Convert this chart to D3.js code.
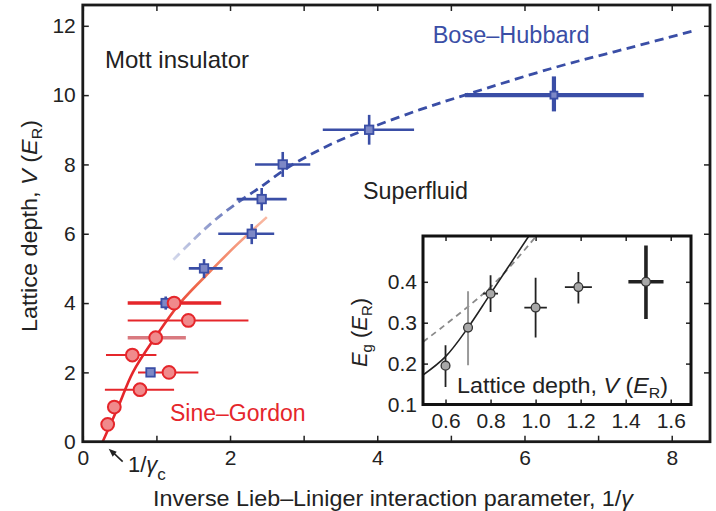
<!DOCTYPE html>
<html><head><meta charset="utf-8">
<script src="https://cdn.jsdelivr.net/npm/d3@7"></script>
<style>body{margin:0;background:#fff} text{font-family:"Liberation Sans",Arial,Helvetica,sans-serif;fill:#222}</style>
</head><body><svg id="c" width="716" height="511"></svg>
<script>
// ---- main panel data ----
const bhX=[0.92,1.126,1.647,2.295,2.43,2.716,3.89,6.40];
const bhY=[2,4,5,6,7,8,9,10];
const bhXlo=[null,1.05,1.44,1.84,2.09,2.34,3.26,5.19];
const bhXhi=[null,1.20,1.90,2.60,2.77,3.09,4.50,7.62];
const bhYlo=[null,3.81,4.72,5.70,6.67,7.64,8.57,9.53];
const bhYhi=[null,4.19,5.27,6.28,7.32,8.36,9.43,10.54];
const sgX=[0.338,0.428,0.777,1.171,0.673,0.99,1.434,1.24];
const sgY=[0.5,1,1.5,2,2.5,3,3.5,4];
const sgXlo=[null,0.38,0.30,0.75,0.315,0.61,0.61,0.61];
const sgXhi=[null,0.50,1.24,1.57,1.00,1.40,2.25,1.88];
const bhCurveX=[1.23,1.50,1.77,2.09,2.41,2.77,3.09,3.45,3.90,4.58,5.19,6.4,7.4,8.34];
const bhCurveY=[5.25,5.82,6.35,6.88,7.34,7.89,8.28,8.66,9.05,9.58,10.0,10.79,11.35,11.88];
const sgCurveX=[0.27,0.48,0.68,0.98,1.32,1.77,2.1,2.50];
const sgCurveY=[0,1,2,3,4,5,5.7,6.48];
const xTicks=[0,1,2,3,4,5,6,7,8];
const xTickLabels=["0","","2","","4","","6","","8"];
const yTicks=[0,2,4,6,8,10,12];
const gammaC=0.27;
// ---- inset data ----
const inX=[0.6,0.7,0.8,1.0,1.19,1.49];
const inY=[0.195,0.288,0.371,0.337,0.387,0.40];
const inXerr=[0.02,0.022,0.033,0.05,0.06,0.078];
const inYlo=[0.143,0.196,0.326,0.264,0.347,0.309];
const inYhi=[0.245,0.377,0.416,0.41,0.424,0.489];
const inFitX=[0.5,0.6,0.7,0.8,0.97];
const inFitY=[0.172,0.217,0.288,0.371,0.512];
const inDashX=[0.5,0.8,1.0];
const inDashY=[0.253,0.387,0.51];
const inXTicks=[0.6,0.8,1.0,1.2,1.4,1.6];
const inYTicks=[0.1,0.2,0.3,0.4];

const svg=d3.select("#c");
const x=d3.scaleLinear().domain([0,8.52]).range([82.8,710]);
const y=d3.scaleLinear().domain([0,12.6]).range([441.7,5]);
const blue="#3a4ea6", blueFill="#7d88c6", red="#e5262b", redFill="#f08a8c";

const defs=svg.append("defs");
const gB=defs.append("linearGradient").attr("id","gb").attr("gradientUnits","userSpaceOnUse")
  .attr("x1",x(1.2)).attr("x2",x(2.35)).attr("y1",0).attr("y2",0);
gB.append("stop").attr("offset",0).attr("stop-color",blue).attr("stop-opacity",0.2);
gB.append("stop").attr("offset",1).attr("stop-color",blue).attr("stop-opacity",1);
const gR=defs.append("linearGradient").attr("id","gr").attr("gradientUnits","userSpaceOnUse")
  .attr("x1",0).attr("x2",0).attr("y1",y(3.2)).attr("y2",y(6.45));
gR.append("stop").attr("offset",0).attr("stop-color",red);
gR.append("stop").attr("offset",0.45).attr("stop-color","#f0704f");
gR.append("stop").attr("offset",1).attr("stop-color","#f9b9a2");

// axes (inward ticks)
const fs=21;
function styleAxis(g){g.select(".domain").remove();g.selectAll(".tick line").attr("stroke","#222").attr("stroke-width",1.5);
  g.selectAll(".tick text").attr("font-size",fs).attr("fill","#222").attr("font-family",'"Liberation Sans",Arial,sans-serif');}
svg.append("g").attr("transform",`translate(0,${y(0)})`)
  .call(d3.axisBottom(x).tickValues(xTicks).tickSize(-6).tickPadding(8.5).tickFormat((d,i)=>xTickLabels[i])).call(styleAxis);
svg.append("g").attr("transform",`translate(0,${y(12.6)})`)
  .call(d3.axisTop(x).tickValues(xTicks).tickSize(-6).tickFormat("")).call(styleAxis);
svg.append("g").attr("transform",`translate(${x(0)},0)`)
  .call(d3.axisLeft(y).tickValues(yTicks).tickSize(-6).tickPadding(7)).call(styleAxis);
svg.append("g").attr("transform",`translate(${x(8.52)},0)`)
  .call(d3.axisRight(y).tickValues(yTicks).tickSize(-6).tickFormat("")).call(styleAxis);

// SG curve
const lineXY=(xs,ys,sx,sy,c)=>d3.line().curve(c||d3.curveCatmullRom).x((d,i)=>sx(xs[i])).y((d,i)=>sy(ys[i]))(xs);
svg.append("path").attr("d",lineXY(sgCurveX,sgCurveY,x,y)).attr("fill","none").attr("stroke","url(#gr)").attr("stroke-width",2.6);
// BH curve
svg.append("path").attr("d",lineXY(bhCurveX,bhCurveY,x,y)).attr("fill","none").attr("stroke","url(#gb)")
  .attr("stroke-width",2.8).attr("stroke-dasharray","9,5.5");

// red error bars
sgX.forEach((v,i)=>{ if(sgXlo[i]==null) return;
  svg.append("line").attr("x1",x(sgXlo[i])).attr("x2",x(sgXhi[i])).attr("y1",y(sgY[i])).attr("y2",y(sgY[i]))
   .attr("stroke",i===5?"#d97a80":red).attr("stroke-width",(i===5||i===7)?3.6:2);
});
// blue points
bhX.forEach((v,i)=>{
  const w=i===7?4.2:2.6;
  if(bhXlo[i]!=null){
    svg.append("line").attr("x1",x(bhXlo[i])).attr("x2",x(bhXhi[i])).attr("y1",y(bhY[i])).attr("y2",y(bhY[i])).attr("stroke",blue).attr("stroke-width",w);
    svg.append("line").attr("x1",x(v)).attr("x2",x(v)).attr("y1",y(bhYlo[i])).attr("y2",y(bhYhi[i])).attr("stroke",blue).attr("stroke-width",w);
  }
  const s=i===7?7:8.5;
  svg.append("rect").attr("x",x(v)-s/2).attr("y",y(bhY[i])-s/2).attr("width",s).attr("height",s)
    .attr("fill",blueFill).attr("stroke",blue).attr("stroke-width",1.8);
});
// red circles
sgX.forEach((v,i)=>{
  svg.append("circle").attr("cx",x(v)).attr("cy",y(sgY[i])).attr("r",6.4).attr("fill",redFill).attr("stroke",red).attr("stroke-width",2);
});

// frame
svg.append("rect").attr("x",x(0)).attr("y",y(12.6)).attr("width",x(8.52)-x(0)).attr("height",y(0)-y(12.6))
  .attr("fill","none").attr("stroke","#1a1a1a").attr("stroke-width",2.8);

// labels
const lab=(t,xx,yy,sz,col)=>svg.append("text").attr("x",xx).attr("y",yy).attr("font-size",sz).style("fill",col||"#222").text(t);
lab("Mott insulator",105,68,24);
lab("Bose\u2013Hubbard",432.7,42.5,23.5,blue);
lab("Superfluid",363,199,23.3);
lab("Sine\u2013Gordon",170,420.5,23,red);
// 1/gamma_c
const gc=svg.append("text").attr("x",128).attr("y",472).attr("font-size",fs+1);
gc.append("tspan").text("1/");gc.append("tspan").attr("font-style","italic").text("\u03b3");
gc.append("tspan").attr("dy",8).attr("font-size",17).text("c");
const ax0=x(gammaC)+6, ay0=y(0)+7, ax1=x(gammaC)+20, ay1=y(0)+20;
svg.append("line").attr("x1",ax0+4).attr("y1",ay0+3.5).attr("x2",ax1).attr("y2",ay1).attr("stroke","#222").attr("stroke-width",1.6);
svg.append("path").attr("d",`M${ax0},${ay0} L${ax0+8},${ay0+3} L${ax0+4},${ay0+8} Z`).attr("fill","#222");
// axis titles
const xt=svg.append("text").attr("x",153).attr("y",506).attr("font-size",22)
  .attr("textLength",480).attr("lengthAdjust","spacingAndGlyphs");
xt.append("tspan").text("Inverse Lieb\u2013Liniger interaction parameter, 1/");
xt.append("tspan").attr("font-style","italic").text("\u03b3");
const yt=svg.append("text").attr("transform","translate(37,332) rotate(-90)").attr("font-size",22)
  .attr("textLength",212).attr("lengthAdjust","spacingAndGlyphs");
yt.append("tspan").text("Lattice depth, ");yt.append("tspan").attr("font-style","italic").text("V");
yt.append("tspan").text(" (");yt.append("tspan").attr("font-style","italic").text("E");
yt.append("tspan").attr("dy",5).attr("font-size",15).text("R");yt.append("tspan").attr("dy",-5).text(")");

// ---- inset ----
const ix=d3.scaleLinear().domain([0.5,1.69]).range([423,691]);
const iy=d3.scaleLinear().domain([0.1,0.512]).range([404.5,236]);
svg.append("rect").attr("x",ix(0.5)).attr("y",iy(0.512)).attr("width",ix(1.69)-ix(0.5)).attr("height",iy(0.1)-iy(0.512)).attr("fill","#fff");
defs.append("clipPath").attr("id","ic").append("rect").attr("x",ix(0.5)).attr("y",iy(0.512)).attr("width",ix(1.69)-ix(0.5)).attr("height",iy(0.1)-iy(0.512));
svg.append("g").attr("transform",`translate(0,${iy(0.1)})`)
  .call(d3.axisBottom(ix).tickValues(inXTicks).tickSize(-5).tickPadding(8.6).tickFormat(d3.format(".1f"))).call(styleAxis);
svg.append("g").attr("transform",`translate(0,${iy(0.512)})`)
  .call(d3.axisTop(ix).tickValues(inXTicks).tickSize(-5).tickFormat("")).call(styleAxis);
svg.append("g").attr("transform",`translate(${ix(0.5)},0)`)
  .call(d3.axisLeft(iy).tickValues(inYTicks).tickSize(-5).tickPadding(6).tickFormat(d3.format(".1f"))).call(styleAxis);
svg.append("g").attr("transform",`translate(${ix(1.69)},0)`)
  .call(d3.axisRight(iy).tickValues(inYTicks).tickSize(-5).tickFormat("")).call(styleAxis);
const ic=svg.append("g").attr("clip-path","url(#ic)");
ic.append("path").attr("d",lineXY(inDashX,inDashY,ix,iy)).attr("fill","none").attr("stroke","#8a8a8a").attr("stroke-width",1.8).attr("stroke-dasharray","6,4.5");
ic.append("path").attr("d",lineXY(inFitX,inFitY,ix,iy)).attr("fill","none").attr("stroke","#222").attr("stroke-width",1.6);
inX.forEach((v,i)=>{
  const col=i===1?"#999":"#222", w=i===5?3.6:(i===1?2:1.8);
  ic.append("line").attr("x1",ix(v)).attr("x2",ix(v)).attr("y1",iy(inYlo[i])).attr("y2",iy(inYhi[i])).attr("stroke",col).attr("stroke-width",w);
  ic.append("line").attr("x1",ix(v-inXerr[i])).attr("x2",ix(v+inXerr[i])).attr("y1",iy(inY[i])).attr("y2",iy(inY[i])).attr("stroke",col).attr("stroke-width",w);
  ic.append("circle").attr("cx",ix(v)).attr("cy",iy(inY[i])).attr("r",4.4).attr("fill","#a8a8a8").attr("stroke","#333").attr("stroke-width",1.3);
});
svg.append("rect").attr("x",ix(0.5)).attr("y",iy(0.512)).attr("width",ix(1.69)-ix(0.5)).attr("height",iy(0.1)-iy(0.512))
  .attr("fill","none").attr("stroke","#111").attr("stroke-width",3);
const il=svg.append("text").attr("x",457).attr("y",393).attr("font-size",22)
  .attr("textLength",211).attr("lengthAdjust","spacingAndGlyphs");
il.append("tspan").text("Lattice depth, ");il.append("tspan").attr("font-style","italic").text("V");
il.append("tspan").text(" (");il.append("tspan").attr("font-style","italic").text("E");
il.append("tspan").attr("dy",5).attr("font-size",15).text("R");il.append("tspan").attr("dy",-5).text(")");
const iyl=svg.append("text").attr("transform","translate(367,367) rotate(-90)").attr("font-size",22)
  .attr("textLength",69).attr("lengthAdjust","spacingAndGlyphs");
iyl.append("tspan").attr("font-style","italic").text("E");iyl.append("tspan").attr("dy",5).attr("font-size",15).text("g");
iyl.append("tspan").attr("dy",-5).text(" (");iyl.append("tspan").attr("font-style","italic").text("E");
iyl.append("tspan").attr("dy",5).attr("font-size",15).text("R");iyl.append("tspan").attr("dy",-5).text(")");
</script></body></html>
